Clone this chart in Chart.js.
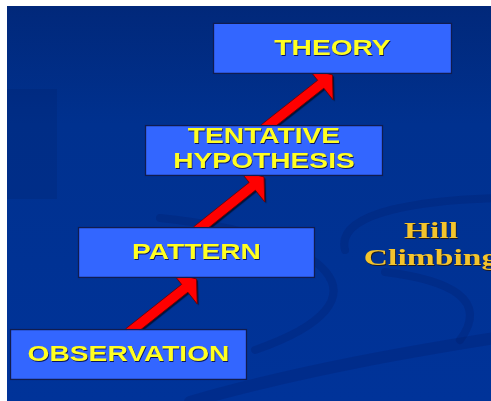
<!DOCTYPE html>
<html>
<head>
<meta charset="utf-8">
<script src="https://cdn.jsdelivr.net/npm/chart.js@4.4.1/dist/chart.umd.min.js"></script>
<style>
  html, body { margin: 0; padding: 0; background: #fff; }
  canvas { display: block; }
</style>
</head>
<body>
<canvas id="chart" width="491" height="401"></canvas>
<script>
// ladder steps, bottom to top
const steps = [['OBSERVATION'], ['PATTERN'], ['TENTATIVE', 'HYPOTHESIS'], ['THEORY']];
const stepLevel = [0, 1, 2, 3];
const stepStart = [10, 78, 145, 213];
const stepEnd = [247, 315, 383, 452];
const sideNote = ['Hill', 'Climbing'];

const boxFill = '#3366ff';
const textYellow = '#ffff22';
const noteGold = '#f4c42c';

function drawArrow(ctx, sx, sy, tx, ty) {
  const len = Math.hypot(tx - sx, ty - sy);
  const ang = Math.atan2(ty - sy, tx - sx);
  const head = 15, headHalf = 20, shaft = 5;
  ctx.save();
  ctx.translate(sx, sy);
  ctx.rotate(ang);
  ctx.beginPath();
  ctx.moveTo(0, -shaft);
  ctx.lineTo(len - head, -shaft);
  ctx.lineTo(len - head, -headHalf);
  ctx.lineTo(len, 0);
  ctx.lineTo(len - head, headHalf);
  ctx.lineTo(len - head, shaft);
  ctx.lineTo(0, shaft);
  ctx.closePath();
  ctx.shadowColor = 'rgba(0,0,0,0.6)';
  ctx.shadowOffsetX = 1.5;
  ctx.shadowOffsetY = 1.5;
  ctx.shadowBlur = 1;
  ctx.fillStyle = '#ff0000';
  ctx.fill();
  ctx.shadowColor = 'transparent';
  ctx.lineWidth = 0.8;
  ctx.strokeStyle = '#700000';
  ctx.stroke();
  ctx.restore();
}

const ladderPlugin = {
  id: 'ladder',
  beforeDraw(chart) {
    const ctx = chart.ctx;
    ctx.save();
    ctx.fillStyle = '#ffffff';
    ctx.fillRect(0, 0, chart.width, chart.height);
    const g = ctx.createLinearGradient(0, 6, 0, 401);
    g.addColorStop(0, '#01287a');
    g.addColorStop(0.3, '#00318f');
    g.addColorStop(1, '#003399');
    ctx.fillStyle = g;
    ctx.fillRect(7, 6, chart.width - 7, chart.height - 6);
    // darker block on the left
    ctx.fillStyle = 'rgba(0,30,100,0.2)';
    ctx.fillRect(7, 89, 50, 110);
    // swooshes
    ctx.strokeStyle = 'rgba(0,25,95,0.22)';
    ctx.lineCap = 'round';
    ctx.lineWidth = 8;
    ctx.beginPath();
    ctx.moveTo(160, 218);
    ctx.bezierCurveTo(330, 235, 400, 300, 255, 350);
    ctx.stroke();
    ctx.lineWidth = 12;
    ctx.beginPath();
    ctx.moveTo(190, 402);
    ctx.bezierCurveTo(300, 370, 420, 350, 495, 338);
    ctx.stroke();
    ctx.lineWidth = 8;
    ctx.beginPath();
    ctx.moveTo(345, 250);
    ctx.bezierCurveTo(335, 210, 430, 200, 495, 198);
    ctx.stroke();
    ctx.beginPath();
    ctx.moveTo(385, 272);
    ctx.bezierCurveTo(450, 280, 490, 300, 460, 340);
    ctx.stroke();
    ctx.restore();
  },
  beforeDatasetsDraw(chart) {
    const ctx = chart.ctx;
    const bars = chart.getDatasetMeta(0).data;
    for (let i = 0; i < bars.length - 1; i++) {
      const lo = bars[i], up = bars[i + 1];
      const sx = (lo.x + lo.base) / 2;
      const sy = lo.y - lo.height / 2 + 4;
      const tx = (up.x + up.base) / 2;
      const ty = up.y + up.height / 2 + 1;
      drawArrow(ctx, sx, sy, tx, ty);
    }
  },
  afterDatasetsDraw(chart) {
    const ctx = chart.ctx;
    const bars = chart.getDatasetMeta(0).data;
    ctx.save();
    ctx.font = 'bold 22px "Liberation Sans", Arial, sans-serif';
    ctx.textAlign = 'center';
    ctx.textBaseline = 'alphabetic';
    bars.forEach((b, i) => {
      const cx = (b.x + b.base) / 2;
      const lines = steps[i];
      const first = lines.length > 1 ? b.y - 7 : b.y + 6.5;
      lines.forEach((t, k) => {
        ctx.save();
        ctx.translate(cx, first + k * 25);
        ctx.scale(1.28, 1);
        ctx.shadowColor = 'rgba(0,0,60,0.8)';
        ctx.shadowOffsetX = 0.7;
        ctx.shadowOffsetY = 0.7;
        ctx.shadowBlur = 0.5;
        ctx.fillStyle = textYellow;
        ctx.fillText(t, 0, 0);
        ctx.restore();
      });
    });
    // side note
    const nx = chart.scales.x.getPixelForValue(431);
    const ny = bars[1].y;
    ctx.font = 'bold 23px "Liberation Serif", "Times New Roman", serif';
    sideNote.forEach((t, k) => {
      ctx.save();
      ctx.translate(nx, ny - 14.5 + k * 27.5);
      ctx.scale(1.46, 1);
      ctx.shadowColor = 'rgba(40,20,0,0.8)';
      ctx.shadowOffsetX = 0.7;
      ctx.shadowOffsetY = 0.7;
      ctx.shadowBlur = 0.5;
      ctx.fillStyle = noteGold;
      ctx.fillText(t, 0, 0);
      ctx.restore();
    });
    ctx.restore();
  }
};

new Chart(document.getElementById('chart'), {
  type: 'bar',
  data: {
    datasets: [{
      data: stepLevel.map((lv, i) => ({ x: [stepStart[i], stepEnd[i]], y: lv })),
      backgroundColor: boxFill,
      borderColor: '#101c50',
      borderWidth: 1.5,
      borderSkipped: false,
      barThickness: 51
    }]
  },
  options: {
    indexAxis: 'y',
    responsive: false,
    animation: false,
    devicePixelRatio: 1,
    layout: { padding: 0 },
    scales: {
      x: { type: 'linear', min: 0, max: 491, offset: false, display: false },
      y: { type: 'linear', min: -0.456, max: 3.475, offset: false, display: false }
    },
    plugins: {
      legend: { display: false },
      tooltip: { enabled: false }
    }
  },
  plugins: [ladderPlugin]
});
</script>
</body>
</html>
